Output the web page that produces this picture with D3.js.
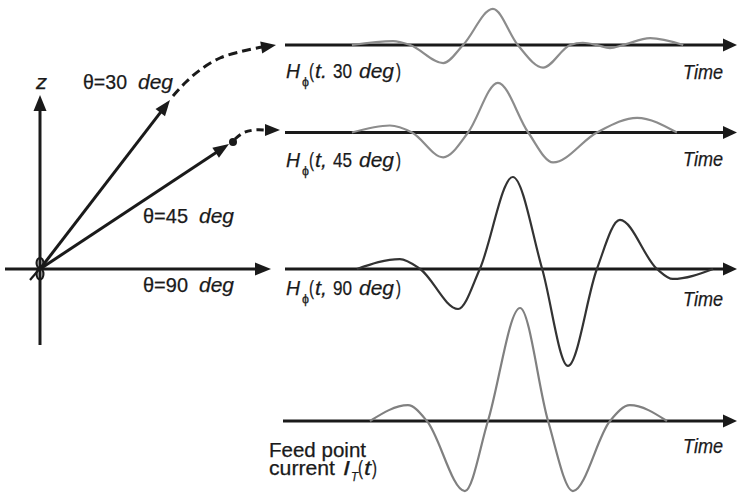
<!DOCTYPE html>
<html><head><meta charset="utf-8">
<script src="https://cdn.jsdelivr.net/npm/d3@7"></script>
<style>
body{margin:0;background:#fff}
svg{display:block}
text{font-family:"Liberation Sans",Arial,sans-serif;fill:#1a1a1a;stroke:#1a1a1a;stroke-width:0.25}
</style>
</head><body>
<svg id="c" width="739" height="493"></svg>
<script>
// ---- data ----
const angles = ["30", "45", "90"];
const timeLabel = "Time";
// H_phi(t, 30 deg)
const time30 = [14.8, 23.9, 27.7, 35.0, 39.4, 46.0, 51.5, 57.1, 63.1, 65.9, 69.0, 71.9, 74.8, 80.8, 88.1];
const amp30  = [0, 0.035, 0, -0.16, 0, 0.32, 0, -0.20, 0, 0.02, 0, -0.027, 0, 0.06, 0];
// H_phi(t, 45 deg)
const time45 = [14.8, 23.2, 28.1, 35.0, 40.5, 47.1, 53.8, 59.3, 69.0, 77.9, 86.7];
const amp45  = [0, 0.062, 0, -0.22, 0, 0.44, 0, -0.265, 0, 0.13, 0];
// H_phi(t, 90 deg)
const time90 = [15.9, 25.4, 29.9, 38.3, 43.1, 50.4, 56.9, 62.6, 69.0, 74.1, 82.3, 85.8, 94.7];
const amp90  = [0, 0.088, 0, -0.354, 0, 0.814, 0, -0.858, 0, 0.434, 0, -0.088, 0];
// Feed point current I_T(t)
const timeFeed = [18.8, 27.2, 31.4, 39.8, 44.9, 52.0, 58.2, 63.7, 71.9, 76.3, 84.5];
const ampFeed  = [0, 0.14, 0, -0.62, 0, 1.0, 0, -0.62, 0, 0.14, 0];

// ---- drawing ----
const svg = d3.select("#c");
const ink = "#1a1a1a";
const x = d3.scaleLinear().domain([0, 100]).range([285, 737]);

function arrowHead(tx, ty, dx, dy, len, wid) {
  const n = Math.hypot(dx, dy); dx /= n; dy /= n;
  const bx = tx - dx * len, by = ty - dy * len;
  const px = -dy * wid / 2, py = dx * wid / 2;
  svg.append("path").attr("d", `M${tx},${ty}L${bx + px},${by + py}L${bx - px},${by - py}Z`).attr("fill", ink);
}
function arrowLine(x1, y1, x2, y2, len, wid, sw) {
  const n = Math.hypot(x2 - x1, y2 - y1);
  const ux = (x2 - x1) / n, uy = (y2 - y1) / n;
  svg.append("line").attr("x1", x1).attr("y1", y1).attr("x2", x2 - ux * (len - 2)).attr("y2", y2 - uy * (len - 2))
    .attr("stroke", ink).attr("stroke-width", sw);
  arrowHead(x2, y2, ux, uy, len, wid);
}

// left diagram
arrowLine(40, 345, 40, 95, 16, 13, 3);      // z axis
arrowLine(5, 269, 271, 269, 16, 13, 3);     // horizontal axis
arrowLine(40, 269, 170, 100, 16, 12, 3);    // theta = 30
arrowLine(40, 269, 229, 144, 16, 12, 3);    // theta = 45
// origin symbol
svg.append("ellipse").attr("cx", 40).attr("cy", 263).attr("rx", 3.4).attr("ry", 5).attr("fill", "none").attr("stroke", ink).attr("stroke-width", 2.2);
svg.append("ellipse").attr("cx", 40).attr("cy", 274).attr("rx", 3.4).attr("ry", 5.5).attr("fill", "none").attr("stroke", ink).attr("stroke-width", 2.2);
svg.append("line").attr("x1", 30).attr("y1", 280).attr("x2", 42).attr("y2", 266).attr("stroke", ink).attr("stroke-width", 2.2);

// dashed continuations
const dashLine = d3.line().curve(d3.curveCatmullRom);
svg.append("path").attr("d", dashLine([[173, 96], [186, 82], [200, 70], [220, 58], [243, 51], [262, 47]]))
  .attr("fill", "none").attr("stroke", ink).attr("stroke-width", 3).attr("stroke-dasharray", "9,5");
arrowHead(276, 45, 1, -0.17, 15, 12);
svg.append("circle").attr("cx", 233).attr("cy", 142).attr("r", 4).attr("fill", ink);
svg.append("path").attr("d", dashLine([[235, 139], [243, 133], [254, 130], [266, 130]]))
  .attr("fill", "none").attr("stroke", ink).attr("stroke-width", 3).attr("stroke-dasharray", "7,5");
arrowHead(280, 130, 1, 0, 15, 12);

// time axes and waveforms
const rows = [
  {base: 45, t: time30, a: amp30, color: "#8c8c8c", x0: 285},
  {base: 132.5, t: time45, a: amp45, color: "#8c8c8c", x0: 285},
  {base: 269, t: time90, a: amp90, color: "#333333", x0: 285},
  {base: 421, t: timeFeed, a: ampFeed, color: "#808080", x0: 283}
];
rows.forEach(r => {
  const y = d3.scaleLinear().domain([-1, 1]).range([r.base + 113, r.base - 113]);
  arrowLine(r.x0, y(0), x(100), y(0), 14, 13, 3);
  const line = d3.line().x((d, i) => x(r.t[i])).y((d, i) => y(r.a[i])).curve(d3.curveMonotoneX);
  svg.append("path").attr("d", line(r.t)).attr("fill", "none").attr("stroke", r.color).attr("stroke-width", 2.2);
});

// ---- texts (each segment squeezed to the condensed width of the reference) ----
function seg(xp, yp, s, w, opt) {
  opt = opt || {};
  const t = svg.append("text").attr("x", xp).attr("y", yp).attr("font-size", opt.fs || 21).text(s);
  if (opt.i) t.attr("font-style", "italic");
  if (w) t.attr("textLength", w).attr("lengthAdjust", "spacingAndGlyphs");
  return t;
}
seg(36, 89, "z", 11, {i: true});
seg(83, 89, "θ=" + angles[0], 44);
seg(138, 89, "deg", 35, {i: true});
seg(143, 223, "θ=" + angles[1], 45);
seg(199, 223, "deg", 35, {i: true});
seg(143, 292, "θ=" + angles[2], 45);
seg(199, 292, "deg", 35, {i: true});

function hLabel(yb, sep, ang) {
  seg(286, yb, "H", 14, {i: true});
  seg(302, yb + 8, "ϕ", 7, {fs: 13});
  seg(309, yb, "(", 5);
  seg(315, yb, "t" + sep, 12, {i: true});
  seg(333, yb, ang, 19);
  seg(359, yb, "deg", 35, {i: true});
  seg(396, yb, ")", 5);
}
hLabel(78, ".", angles[0]);
hLabel(167, ",", angles[1]);
hLabel(295, ",", angles[2]);

[79, 166, 306, 453].forEach(yb => seg(683, yb, timeLabel, 40, {i: true}));

seg(269, 457, "Feed point", 97, {fs: 20});
seg(269, 475, "current", 66, {fs: 20});
seg(343, 475, "I", 7, {i: true, fs: 20});
seg(351, 481, "T", 7, {i: true, fs: 13});
seg(358, 475, "(", 5, {fs: 20});
seg(364, 475, "t", 7, {i: true, fs: 20});
seg(372, 475, ")", 5, {fs: 20});
</script>
</body></html>
